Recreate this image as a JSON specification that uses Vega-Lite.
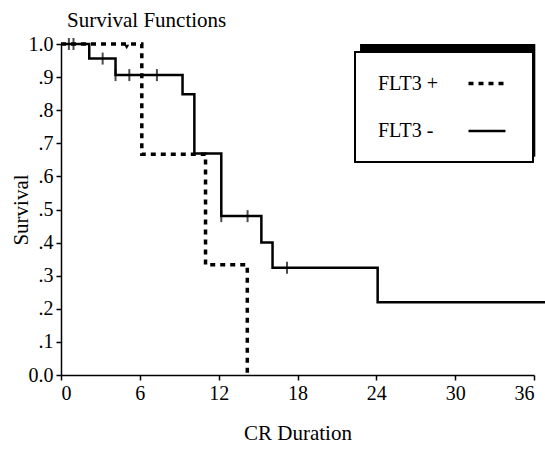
{
  "$schema": "https://vega.github.io/schema/vega-lite/v6.json",
  "width": 473,
  "height": 331,
  "autosize": {"type": "none"},
  "padding": {"left": 61, "top": 44, "right": 11, "bottom": 75},
  "background": "white",
  "title": {
    "text": "Survival Functions",
    "anchor": "start",
    "frame": "group",
    "baseline": "bottom",
    "offset": 4,
    "dy": 22,
    "dx": 6,
    "font": "Liberation Serif",
    "fontSize": 21,
    "fontWeight": "normal",
    "color": "black"
  },
  "config": {
    "view": {"stroke": null},
    "axis": {
      "grid": false,
      "domainColor": "black",
      "domainWidth": 1.5,
      "tickColor": "black",
      "tickWidth": 1.5,
      "tickSize": 5,
      "labelFont": "Liberation Serif",
      "labelFontSize": 20,
      "labelColor": "black",
      "labelOverlap": false,
      "titleFont": "Liberation Serif",
      "titleFontSize": 21,
      "titleFontWeight": "normal",
      "titleColor": "black"
    }
  },
  "datasets": {
    "curves": [
      {"group": "FLT3 +", "t": 0, "s": 1.0},
      {"group": "FLT3 +", "t": 6.15, "s": 0.667},
      {"group": "FLT3 +", "t": 11.0, "s": 0.333},
      {"group": "FLT3 +", "t": 14.18, "s": 0.0},
      {"group": "FLT3 -", "t": 0, "s": 1.0},
      {"group": "FLT3 -", "t": 2.15, "s": 0.956},
      {"group": "FLT3 -", "t": 4.15, "s": 0.906},
      {"group": "FLT3 -", "t": 9.25, "s": 0.848},
      {"group": "FLT3 -", "t": 10.15, "s": 0.669},
      {"group": "FLT3 -", "t": 12.2, "s": 0.48},
      {"group": "FLT3 -", "t": 15.25, "s": 0.40},
      {"group": "FLT3 -", "t": 16.1, "s": 0.324},
      {"group": "FLT3 -", "t": 24.1, "s": 0.22},
      {"group": "FLT3 -", "t": 37.0, "s": 0.22}
    ],
    "censors": [
      {"group": "FLT3 -", "t": 0.6, "s": 1.0},
      {"group": "FLT3 -", "t": 0.95, "s": 1.0},
      {"group": "FLT3 -", "t": 3.17, "s": 0.956},
      {"group": "FLT3 -", "t": 4.15, "s": 0.906},
      {"group": "FLT3 -", "t": 5.2, "s": 0.906},
      {"group": "FLT3 -", "t": 7.3, "s": 0.906},
      {"group": "FLT3 -", "t": 12.2, "s": 0.48},
      {"group": "FLT3 -", "t": 14.2, "s": 0.48},
      {"group": "FLT3 -", "t": 17.2, "s": 0.324}
    ],
    "censorsPlus": [
      {"group": "FLT3 +", "t": 5.0, "s": 1.0}
    ],
    "shadow": [
      {"item": "legend shadow"}
    ]
  },
  "layer": [
    {
      "data": {"name": "curves"},
      "mark": {"type": "line", "interpolate": "step-after", "color": "black", "clip": false},
      "encoding": {
        "x": {
          "field": "t",
          "type": "quantitative",
          "scale": {"domain": [0, 36], "nice": false, "zero": false},
          "axis": {"values": [0, 6, 12, 18, 24, 30, 36], "title": "CR Duration", "titlePadding": 19, "labelPadding": 3, "labelOverlap": false}
        },
        "y": {
          "field": "s",
          "type": "quantitative",
          "scale": {"domain": [0, 1], "nice": false},
          "axis": {
            "values": [0, 0.1, 0.2, 0.3, 0.4, 0.5, 0.6, 0.7, 0.8, 0.9, 1.0],
            "tickCount": 11,
            "labelExpr": "datum.value == 0 ? '0.0' : datum.value >= 1 ? '1.0' : replace(format(datum.value, '.1f'), '0.', '.')",
            "labelOverlap": false,
            "title": "Survival",
            "titlePadding": -3,
            "labelPadding": 3
          }
        },
        "strokeDash": {
          "field": "group",
          "type": "nominal",
          "scale": {"domain": ["FLT3 +", "FLT3 -"], "range": [[5, 5], [1, 0]]},
          "legend": {
            "title": null,
            "orient": "none",
            "legendX": 294,
            "legendY": 8,
            "fillColor": "white",
            "strokeColor": "black",
            "padding": 20.5,
            "rowPadding": 27,
            "symbolType": "M-2,0H2",
            "symbolSize": 342,
            "symbolStrokeWidth": 2.5,
            "symbolStrokeColor": "black",
            "symbolOffset": 100.5,
            "labelOffset": -120,
            "labelFont": "Liberation Serif",
            "labelFontSize": 20,
            "labelColor": "black",
            "encode": {"legend": {"update": {"strokeWidth": {"value": 2}}}}
          }
        },
        "strokeWidth": {
          "field": "group",
          "type": "nominal",
          "scale": {"domain": ["FLT3 +", "FLT3 -"], "range": [3.5, 2.5]},
          "legend": null
        }
      }
    },
    {
      "data": {"name": "censors"},
      "mark": {"type": "tick", "orient": "vertical", "color": "black", "size": 12, "thickness": 2},
      "encoding": {
        "x": {"field": "t", "type": "quantitative"},
        "y": {"field": "s", "type": "quantitative"}
      }
    },
    {
      "data": {"name": "censorsPlus"},
      "mark": {"type": "point", "shape": "triangle-down", "filled": true, "color": "black", "size": 25, "yOffset": 3, "opacity": 1},
      "encoding": {
        "x": {"field": "t", "type": "quantitative"},
        "y": {"field": "s", "type": "quantitative"}
      }
    },
    {
      "data": {"name": "shadow"},
      "mark": {"type": "rect", "color": "black", "clip": false},
      "encoding": {
        "x": {"datum": 22.76, "type": "quantitative"},
        "x2": {"datum": 36.1},
        "y": {"datum": 1.0, "type": "quantitative"},
        "y2": {"datum": 0.659}
      }
    }
  ]
}
